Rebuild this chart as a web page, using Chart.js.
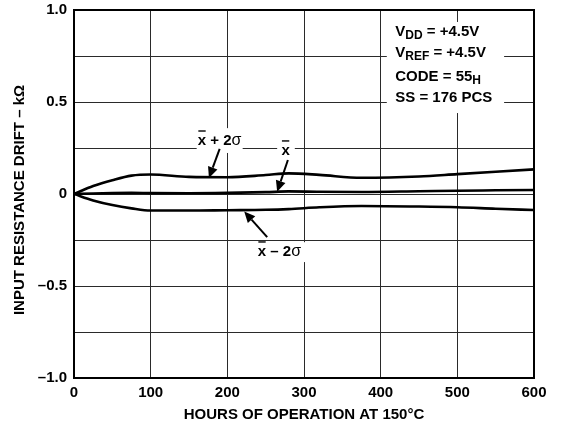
<!DOCTYPE html>
<html><head><meta charset="utf-8">
<script src="https://cdn.jsdelivr.net/npm/chart.js@4"></script>
<style>html,body{margin:0;padding:0;background:#fff}</style>
</head><body>
<canvas id="c" width="565" height="427" style="display:block;width:565px;height:427px"></canvas>
<script>
// ---- data ----
const hours = [0, 25, 50, 75, 100, 150, 200, 250, 280, 320, 375, 450, 500, 550, 600];
const upperPlus2Sigma = [0, 0.043, 0.075, 0.100, 0.106, 0.093, 0.091, 0.103, 0.112, 0.104, 0.088, 0.095, 0.108, 0.121, 0.134];
const meanDrift      = [0, 0.003, 0.005, 0.006, 0.005, 0.004, 0.006, 0.010, 0.014, 0.012, 0.011, 0.015, 0.018, 0.020, 0.022];
const lowerMinus2Sigma = [0, -0.035, -0.060, -0.078, -0.090, -0.090, -0.088, -0.086, -0.082, -0.072, -0.065, -0.068, -0.072, -0.080, -0.087];
const xTickValues = [0, 100, 200, 300, 400, 500, 600];
const yTickLabels = {"1": "1.0", "0.5": "0.5", "0": "0", "-0.5": "–0.5", "-1": "–1.0"};
const xTitle = "HOURS OF OPERATION AT 150°C";
const yTitle = "INPUT RESISTANCE DRIFT – kΩ";
const conditions = [["V", "DD", " = +4.5V"], ["V", "REF", " = +4.5V"], ["CODE = 55", "H", ""], ["SS = 176 PCS", "", ""]];
const conditionValues = [0.88, 0.766, 0.636, 0.522];

const FONT = "Liberation Sans, Arial, Helvetica, sans-serif";
const FS = 15;

function series(vals){ return hours.map((h,i)=>({x:h, y:vals[i]})); }

function drawArrow(ctx, x1, y1, x2, y2){
  const ang = Math.atan2(y2-y1, x2-x1);
  const hl = 11, hw = 5;
  const bx = x2 - hl*Math.cos(ang), by = y2 - hl*Math.sin(ang);
  ctx.save();
  ctx.strokeStyle = "#000"; ctx.fillStyle = "#000"; ctx.lineWidth = 2;
  ctx.beginPath(); ctx.moveTo(x1,y1); ctx.lineTo(bx,by); ctx.stroke();
  ctx.beginPath();
  ctx.moveTo(x2,y2);
  ctx.lineTo(bx + hw*Math.sin(ang), by - hw*Math.cos(ang));
  ctx.lineTo(bx - hw*Math.sin(ang), by + hw*Math.cos(ang));
  ctx.closePath(); ctx.fill();
  ctx.restore();
}

function drawParts(ctx, parts, cx, cy){
  ctx.save();
  ctx.textBaseline = "middle"; ctx.textAlign = "left"; ctx.fillStyle = "#000";
  let total = 0;
  parts.forEach(p=>{ ctx.font = p.w + " " + p.s + "px " + FONT; p.width = ctx.measureText(p.t).width; total += p.width; });
  let x = cx - total/2;
  parts.forEach(p=>{
    ctx.font = p.w + " " + p.s + "px " + FONT;
    ctx.fillText(p.t, x, cy + (p.dy||0));
    if (p.bar){
      ctx.strokeStyle = "#000"; ctx.lineWidth = 1.4;
      ctx.beginPath(); ctx.moveTo(x+0.5, cy-10); ctx.lineTo(x+p.width-0.5, cy-10); ctx.stroke();
    }
    x += p.width;
  });
  ctx.restore();
}

function whiteBox(ctx, x1, y1, x2, y2){
  ctx.save(); ctx.fillStyle = "#fff"; ctx.fillRect(x1, y1, x2-x1, y2-y1); ctx.restore();
}

const annotate = {
  id: "annotate",
  afterDatasetsDraw(chart){
    const ctx = chart.ctx, xs = chart.scales.x, ys = chart.scales.y;
    const X = v => xs.getPixelForValue(v), Y = v => ys.getPixelForValue(v);

    // x + 2 sigma
    whiteBox(ctx, X(160), Y(0.358), X(220), Y(0.223));
    drawParts(ctx, [{t:"x",w:"bold",s:FS,bar:true},{t:" + 2",w:"bold",s:FS},{t:"σ",w:"normal",s:FS+1}], X(190), Y(0.288));
    drawArrow(ctx, X(190), Y(0.245), X(176), Y(0.087));

    // x mean
    whiteBox(ctx, X(265), Y(0.29), X(288), Y(0.19));
    drawParts(ctx, [{t:"x",w:"bold",s:FS,bar:true}], X(276), Y(0.234));
    drawArrow(ctx, X(279), Y(0.185), X(265), Y(0.012));

    // x - 2 sigma
    whiteBox(ctx, X(232), Y(-0.262), X(303), Y(-0.37));
    drawParts(ctx, [{t:"x",w:"bold",s:FS,bar:true},{t:" – 2",w:"bold",s:FS},{t:"σ",w:"normal",s:FS+1}], X(268), Y(-0.315));
    drawArrow(ctx, X(252), Y(-0.234), X(222), Y(-0.095));

    // conditions box
    whiteBox(ctx, X(408), Y(0.935), X(561), Y(0.44));
    ctx.save();
    ctx.fillStyle = "#000"; ctx.textBaseline = "middle"; ctx.textAlign = "left";
    conditions.forEach((c, i)=>{
      let x = X(419); const y = Y(conditionValues[i]);
      ctx.font = "bold " + FS + "px " + FONT; ctx.fillText(c[0], x, y); x += ctx.measureText(c[0]).width;
      if (c[1]){ ctx.font = "bold 12px " + FONT; ctx.fillText(c[1], x, y+3.5); x += ctx.measureText(c[1]).width; }
      if (c[2]){ ctx.font = "bold " + FS + "px " + FONT; ctx.fillText(c[2], x, y); }
    });
    ctx.restore();
  },
  afterDraw(chart){
    const ctx = chart.ctx, a = chart.chartArea;
    ctx.save();
    ctx.strokeStyle = "#000"; ctx.lineWidth = 2;
    ctx.strokeRect(a.left, a.top, a.right-a.left, a.bottom-a.top);
    ctx.fillStyle = "#000"; ctx.font = "bold " + FS + "px " + FONT;
    ctx.textAlign = "center"; ctx.textBaseline = "middle";
    ctx.fillText(xTitle, (a.left+a.right)/2, 414.5);
    ctx.translate(20, 200);
    ctx.rotate(-Math.PI/2);
    ctx.fillText(yTitle, 0, 0);
    ctx.restore();
  }
};

const tickFont = {family: FONT, weight: "bold", size: FS};

new Chart(document.getElementById("c"), {
  type: "line",
  data: {
    datasets: [
      {label: "x̄ + 2σ", data: series(upperPlus2Sigma)},
      {label: "x̄", data: series(meanDrift)},
      {label: "x̄ – 2σ", data: series(lowerMinus2Sigma)}
    ].map(d => Object.assign(d, {borderColor: "#000", borderWidth: 2.6, pointRadius: 0, fill: false, cubicInterpolationMode: "monotone"}))
  },
  options: {
    responsive: false, animation: false, devicePixelRatio: 1,
    layout: {padding: {top: 10, right: 31, left: 0, bottom: 0}},
    plugins: {legend: {display: false}, tooltip: {enabled: false}},
    scales: {
      x: {
        type: "linear", min: 0, max: 600,
        afterFit: s => { s.height = 49; },
        afterBuildTicks: s => { s.ticks = xTickValues.map(v => ({value: v})); },
        ticks: {font: tickFont, color: "#000", padding: 6, maxRotation: 0, callback: v => String(v)},
        grid: {color: "#2a2a2a", lineWidth: 1, drawTicks: false},
        border: {display: true, color: "#000", width: 2}
      },
      y: {
        min: -1, max: 1,
        afterFit: s => { s.width = 74; s.paddingTop = 0; s.paddingBottom = 0; },
        ticks: {stepSize: 0.25, font: tickFont, color: "#000", padding: 7,
          callback: v => { const k = String(Math.round(v*100)/100); return yTickLabels[k] !== undefined ? yTickLabels[k] : ""; }},
        grid: {color: "#2a2a2a", lineWidth: 1, drawTicks: false},
        border: {display: true, color: "#000", width: 2}
      }
    }
  },
  plugins: [annotate]
});
</script>
</body></html>
